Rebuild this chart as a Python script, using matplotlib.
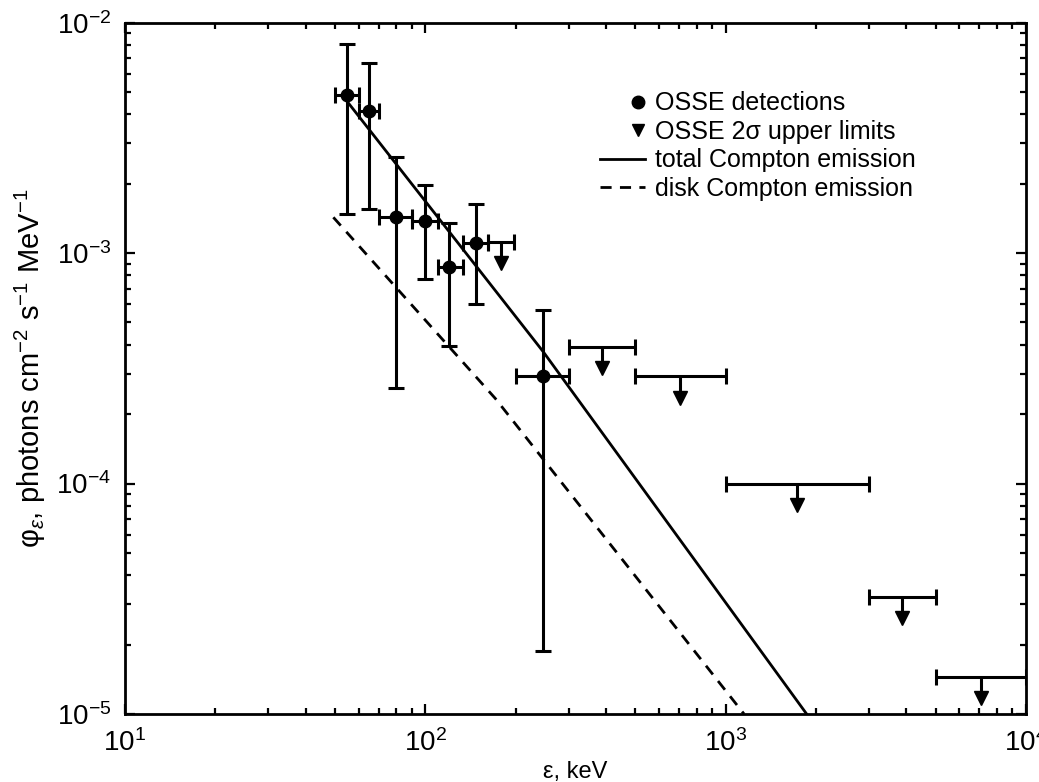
import numpy as np
import matplotlib
matplotlib.use("Agg")
import matplotlib.pyplot as plt
from matplotlib.legend_handler import HandlerLine2D
from matplotlib.lines import Line2D

plt.rcParams['font.family'] = ['Liberation Sans', 'DejaVu Sans']
plt.rcParams['mathtext.fontset'] = 'custom'
plt.rcParams['mathtext.rm'] = 'Liberation Sans'
plt.rcParams['mathtext.it'] = 'Liberation Sans:italic'
plt.rcParams['mathtext.bf'] = 'Liberation Sans:bold'

# OSSE detections (keV, photons cm^-2 s^-1 MeV^-1)
det_x = [55, 65, 80, 100, 120, 148, 247]
det_xlo = [50, 60, 70, 90, 110, 133, 200]
det_xhi = [60, 70, 90, 110, 133, 162, 300]
det_y = [4.85e-3, 4.15e-3, 1.43e-3, 1.38e-3, 8.7e-4, 1.11e-3, 2.93e-4]
det_ylo = [1.48e-3, 1.55e-3, 2.6e-4, 7.7e-4, 3.95e-4, 6.0e-4, 1.88e-5]
det_yhi = [8.1e-3, 6.7e-3, 2.6e-3, 1.98e-3, 1.35e-3, 1.63e-3, 5.65e-4]

# OSSE 2 sigma upper limits
ul_xlo = [162, 300, 500, 1000, 3000, 5000]
ul_xhi = [198, 500, 1000, 3000, 5000, 10000]
ul_y = [1.12e-3, 3.93e-4, 2.93e-4, 1.0e-4, 3.23e-5, 1.45e-5]

# model curves
tot_x = [55, 247, 1860]
tot_y = [4.54e-3, 3.73e-4, 1.0e-5]
disk_x = [49.4, 171, 1151]
disk_y = [1.43e-3, 2.34e-4, 1.0e-5]


class RightMarkerHandler(HandlerLine2D):
    # put the single legend marker near the right end of the handle box
    def get_xdata(self, legend, xdescent, ydescent, width, height, fontsize):
        m = -xdescent + width - 0.3 * fontsize
        return [m - 1, m + 1], [m]


fig = plt.figure(figsize=(10.39, 7.82), dpi=100)
ax = fig.add_axes([0.1203, 0.087, 0.8672, 0.884])

det_x = np.array(det_x)
det_y = np.array(det_y)
xerr = [det_x - np.array(det_xlo), np.array(det_xhi) - det_x]
yerr = [det_y - np.array(det_ylo), np.array(det_yhi) - det_y]
ax.errorbar(det_x, det_y, xerr=xerr, yerr=yerr, fmt='o', color='black',
            ms=9, elinewidth=2.2, capsize=6, capthick=2.2)

ul_xlo = np.array(ul_xlo)
ul_xhi = np.array(ul_xhi)
ul_y = np.array(ul_y)
ul_xc = np.sqrt(ul_xlo * ul_xhi)
ax.errorbar(ul_xc, ul_y, xerr=[ul_xc - ul_xlo, ul_xhi - ul_xc], fmt='none',
            ecolor='black', elinewidth=2.2, capsize=6, capthick=2.2)
head_y = ul_y * 10 ** (-0.094)
ax.vlines(ul_xc, head_y, ul_y, color='black', lw=2.2)
ax.plot(ul_xc, head_y, 'v', color='black', ms=10, ls='none')

ax.plot(tot_x, tot_y, color='black', lw=2)
ax.plot(disk_x, disk_y, color='black', lw=2, ls=(0, (4, 3)))

ax.set_xscale('log')
ax.set_yscale('log')
ax.set_xlim(10, 1e4)
ax.set_ylim(1e-5, 1e-2)

for s in ax.spines.values():
    s.set_linewidth(2)
ax.tick_params(which='both', direction='in', top=True, right=True, width=1.6,
               labelsize=20)
ax.tick_params(which='major', length=7)
ax.tick_params(axis='y', which='major', pad=10)
ax.tick_params(axis='x', which='major', pad=11)
ax.tick_params(which='minor', length=4.5)

ax.set_xlabel('ε, keV', fontsize=17, labelpad=3)
ax.set_ylabel(r'φ$_ε$, photons cm$^{-2}$ s$^{-1}$ MeV$^{-1}$',
              fontsize=21, labelpad=6)

handles = [
    Line2D([], [], marker='o', color='black', ls='none', ms=9),
    Line2D([], [], marker='v', color='black', ls='none', ms=9),
    Line2D([], [], color='black', lw=2),
    Line2D([], [], color='black', lw=2, ls=(0, (4, 3))),
]
labels = ['OSSE detections', 'OSSE 2σ upper limits',
          'total Compton emission', 'disk Compton emission']
ax.legend(handles, labels, loc='upper right', frameon=False, fontsize=18,
          handlelength=1.8, handletextpad=0.4, labelspacing=0.18,
          bbox_to_anchor=(0.903, 0.933),
          handler_map={handles[0]: RightMarkerHandler(numpoints=1),
                       handles[1]: RightMarkerHandler(numpoints=1)})

fig.savefig('out.png', dpi=100)
